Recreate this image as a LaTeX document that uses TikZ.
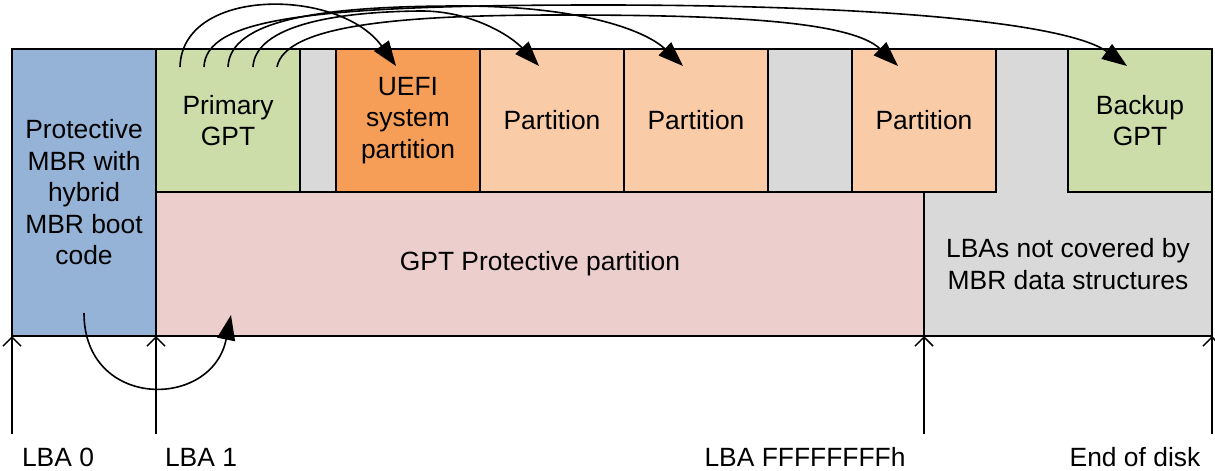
\documentclass[tikz,border=0pt]{standalone}
\usepackage{fontspec}
\setmainfont{Liberation Sans}
\usetikzlibrary{arrows.meta}
\definecolor{mbrblue}{RGB}{149,179,215}
\definecolor{gptgreen}{RGB}{205,221,170}
\definecolor{uefiorange}{RGB}{246,158,88}
\definecolor{partorange}{RGB}{250,203,167}
\definecolor{protpink}{RGB}{236,206,205}
\definecolor{gapgray}{RGB}{217,217,217}
\begin{document}
\begin{tikzpicture}[x=1pt,y=-1pt,
  box/.style={draw=black,line width=1.6pt,inner sep=0pt,outer sep=0pt,align=center,
    font=\fontsize{26.4}{31.5}\selectfont,minimum height=143pt},
  link/.style={line width=1.6pt,-{Triangle[length=25pt,width=18pt]}},
  tickline/.style={line width=1.5pt,-{Straight Barb[length=9pt,width=18pt,line width=1.5pt]}},
  lbl/.style={font=\fontsize{26.4}{31.5}\selectfont,inner sep=0pt}]
\useasboundingbox (0,0) rectangle (1215,471);
\fill[white] (0,0) rectangle (1215,471);
% gray region not covered
\filldraw[fill=gapgray,draw=black,line width=1.6pt]
  (924,192) -- (996,192) -- (996,49) -- (1068,49) -- (1068,192) -- (1212,192)
  -- (1212,336) -- (924,336) -- cycle;
\node[lbl,align=center] (notcov) at (1068,264) {LBAs not covered by\\MBR data structures};
% boxes
\node[box,fill=mbrblue,minimum width=144pt,minimum height=287pt] (mbr) at (84,192.5)
  {Protective\\MBR with\\hybrid\\MBR boot\\code};
\node[box,fill=gptgreen,minimum width=144pt] (pgpt) at (228,120.5) {Primary\\GPT};
\node[box,fill=gapgray,minimum width=36pt] (gap1) at (318,120.5) {};
\node[box,fill=uefiorange,minimum width=144pt] (uefi) at (408,120.5) {UEFI\\system\\partition};
\node[box,fill=partorange,minimum width=144pt] (p1) at (552,120.5) {Partition};
\node[box,fill=partorange,minimum width=144pt] (p2) at (696,120.5) {Partition};
\node[box,fill=gapgray,minimum width=84pt] (gap2) at (810,120.5) {};
\node[box,fill=partorange,minimum width=144pt] (p3) at (924,120.5) {Partition};
\node[box,fill=gptgreen,minimum width=144pt] (bgpt) at (1140,120.5) {Backup\\GPT};
\node[box,fill=protpink,minimum width=768pt,minimum height=144pt] (prot) at (540,264)
  {GPT Protective partition};
% top links
\coordinate (s1) at (180,67); \coordinate (e1) at (396,66);
\coordinate (s2) at (204,67); \coordinate (e2) at (539,66);
\coordinate (s3) at (228,67); \coordinate (e3) at (683,66);
\coordinate (s4) at (253,67); \coordinate (e4) at (898,66);
\coordinate (s5) at (277,67); \coordinate (e5) at (1127,66);
\draw[link] (s1) .. controls (182,-14) and (340,-12) .. (e1);
\draw[link] (s4) .. controls (255,30) and (320,12) .. (420,11)
  .. controls (470,10.5) and (510,35) .. (e2);
\draw[link] (s3) .. controls (230,20) and (320,6) .. (460,6)
  .. controls (580,6) and (645,30) .. (e3);
\draw[link] (s5) .. controls (285,25) and (400,15) .. (560,15)
  .. controls (720,15) and (850,20) .. (e4);
\draw[link] (s2) .. controls (206,20) and (300,5) .. (600,5)
  .. controls (900,5) and (1070,25) .. (e5);
% bottom link
\coordinate (ms) at (84,313); \coordinate (me) at (231,315);
\draw[link] (ms) .. controls (84,410) and (212,410) .. (me);
% ticks
\coordinate (t0) at (12,434); \coordinate (t1) at (156,434);
\coordinate (t2) at (924,434); \coordinate (t3) at (1212,434);
\draw[tickline] (t0) -- (mbr.south west);
\draw[tickline] (t1) -- (mbr.south east);
\draw[tickline] (t2) -- (prot.south east);
\draw[tickline] (t3) -- (1212,336);
% labels
\node[lbl] (l0) at (58,457) {LBA 0};
\node[lbl] (l1) at (201,457) {LBA 1};
\node[lbl] (l2) at (805,457) {LBA FFFFFFFFh};
\node[lbl] (l3) at (1135,457) {End of disk};
\end{tikzpicture}
\end{document}
